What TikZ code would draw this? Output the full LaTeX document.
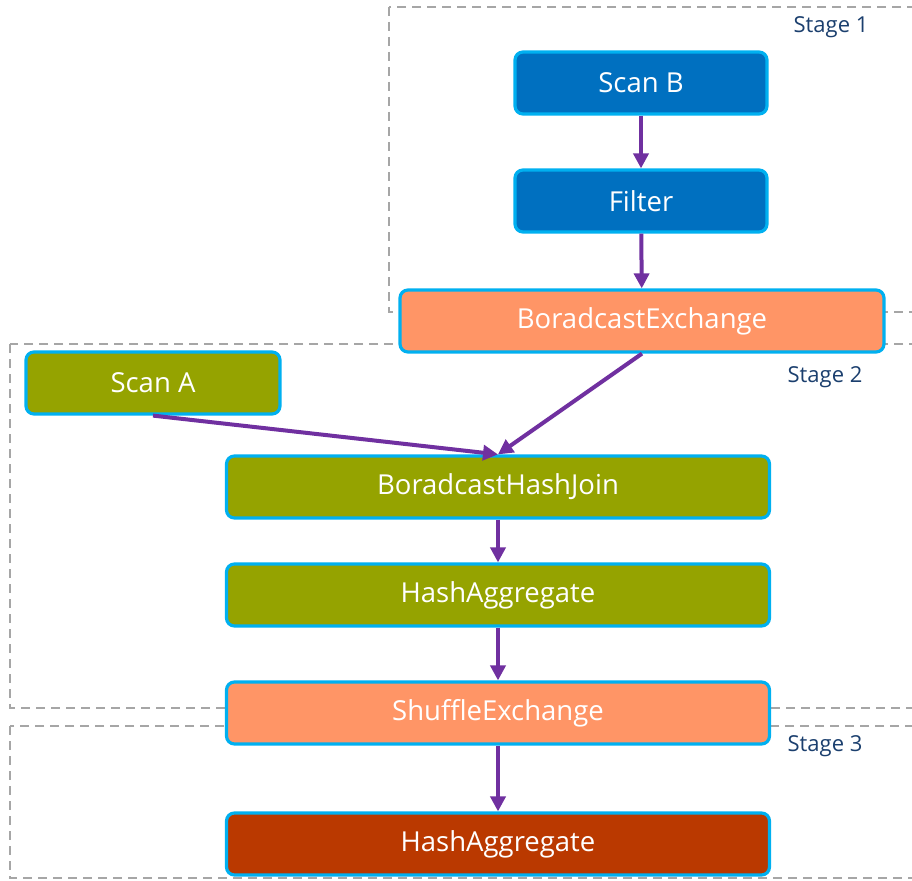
\documentclass[tikz,border=0pt]{standalone}
\usepackage{fontspec}
\setmainfont{Open Sans}
\usetikzlibrary{arrows.meta}
\definecolor{opblue}{HTML}{0070C0}
\definecolor{opolive}{HTML}{95A300}
\definecolor{opsalmon}{HTML}{FF9566}
\definecolor{oprust}{HTML}{BA3900}
\definecolor{opedge}{HTML}{00B0F0}
\definecolor{oparrow}{HTML}{7030A0}
\definecolor{stagegray}{HTML}{A6A6A6}
\definecolor{stagetext}{HTML}{1B3F6E}
\tikzset{
	op/.style={draw=opedge, line width=3.2pt, rounded corners=8pt, text=white,
		font=\fontsize{27.5}{32}\selectfont, inner sep=0pt, minimum height=62pt},
	stagebox/.style={draw=stagegray, line width=1.6pt, dash pattern=on 9pt off 6pt},
	stagelabel/.style={text=stagetext, font=\fontsize{22}{26}\selectfont},
	flow/.style={draw=oparrow, line width=4pt, -{Triangle[length=15pt,width=15pt]}}
}
\begin{document}
\begin{tikzpicture}[x=1pt, y=-1pt]
				\clip (0,0) rectangle (912,880);
				\fill[white] (0,0) rectangle (912,880);
				\draw[stagebox] (389,7) rectangle (940,312);
				\draw[stagebox] (10,344) rectangle (940,708);
				\draw[stagebox] (10,726) rectangle (940,878);
				\node[stagelabel] (L1)at(831, 27) {Stage 1};
				\node[stagelabel] (L2)at(825, 377) {Stage 2};
				\node[stagelabel] (L3)at(825, 746) {Stage 3};
				\node[op, fill=opblue, minimum width=252pt] (B)at(641, 83) {Scan B};
				\node[op, fill=opblue, minimum width=252pt] (F)at(641, 201) {Filter};
				\node[op, fill=opsalmon, minimum width=484pt] (X)at(642, 321) {BoradcastExchange};
				\node[op, fill=opolive, minimum width=254pt] (A)at(153, 383) {Scan A};
				\node[op, fill=opolive, minimum width=543pt] (J)at(498, 487) {BoradcastHashJoin};
				\node[op, fill=opolive, minimum width=543pt] (H)at(498, 595) {HashAggregate};
				\node[op, fill=opsalmon, minimum width=543pt] (S)at(498, 713) {ShuffleExchange};
				\node[op, fill=oprust, minimum width=543pt] (G)at(498, 844) {HashAggregate};
				\draw[flow] (B) -- (F);
				\draw[flow] (F) -- (X);
				\draw[flow] (X.south) -- (J.north);
				\draw[flow] (A.south) -- (J.north);
				\draw[flow] (J) -- (H);
				\draw[flow] (H) -- (S);
				\draw[flow] (S) -- (G);
			\end{tikzpicture}
\end{document}
